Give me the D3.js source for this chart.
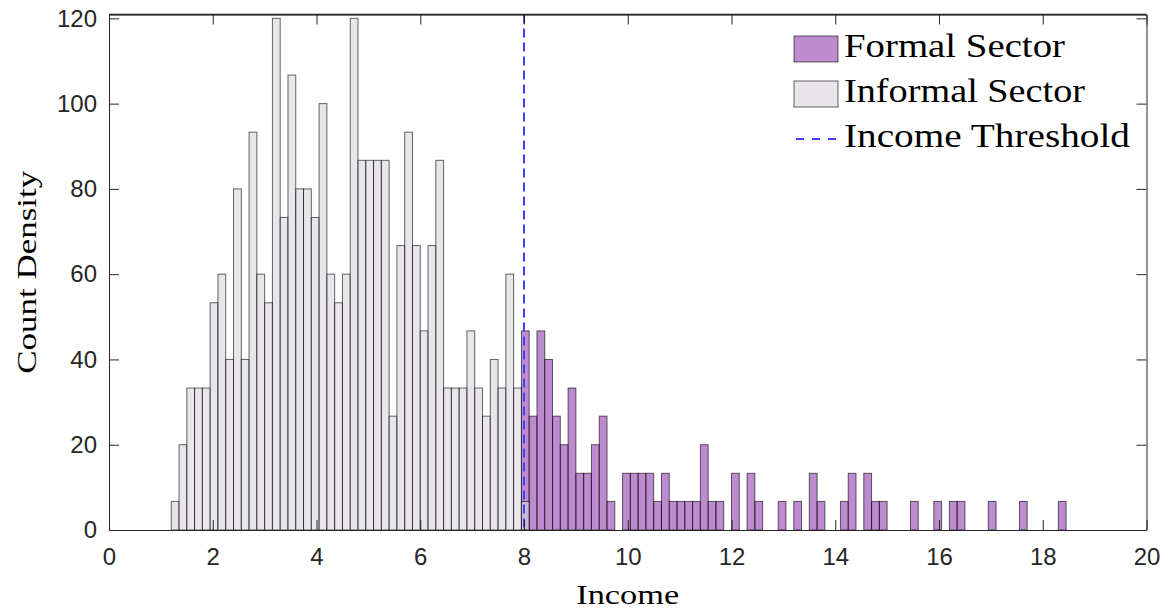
<!DOCTYPE html>
<html>
<head>
<meta charset="utf-8">
<script src="https://cdn.jsdelivr.net/npm/d3@7"></script>
<style>
  body { margin: 0; background: #fff; }
  svg { display: block; }
  .tick text { font-family: "Liberation Sans", Arial, sans-serif; font-size: 24px; fill: #262626; }
  .serif { font-family: "Liberation Serif", "Times New Roman", serif; fill: #000; }
</style>
</head>
<body>
<svg id="chart"></svg>
<script>
// histogram bins (Count Density = count / bin width)
var binWidth = 0.15;
var informalStart = 1.2;
var formalStart = 7.95;
var threshold = 8;

var informalDensity = [6.7, 20, 33.3, 33.3, 33.3, 53.3, 60, 40, 80, 40, 93.3, 60, 53.3, 120, 73.3, 106.7,
  80, 80, 73.3, 100, 60, 53.3, 60, 120, 86.7, 86.7, 86.7, 86.7, 26.7, 66.7, 93.3, 66.7, 46.7, 66.7, 86.7,
  33.3, 33.3, 33.3, 46.7, 33.3, 26.7, 40, 33.3, 60, 33.3, 6.7];

var formalDensity = [46.7, 26.7, 46.7, 40, 26.7, 20, 33.3, 13.3, 13.3, 20, 26.7, 6.7, 0, 13.3, 13.3, 13.3,
  13.3, 6.7, 13.3, 6.7, 6.7, 6.7, 6.7, 20, 6.7, 6.7, 0, 13.3, 0, 13.3, 6.7, 0, 0, 6.7, 0, 6.7, 0, 13.3, 6.7,
  0, 0, 6.7, 13.3, 0, 13.3, 6.7, 6.7, 0, 0, 0, 6.7, 0, 0, 6.7, 0, 6.7, 6.7, 0, 0, 0, 6.7, 0, 0, 0, 6.7,
  0, 0, 0, 0, 6.7];

var xTicks = [0, 2, 4, 6, 8, 10, 12, 14, 16, 18, 20];
var yTicks = [0, 20, 40, 60, 80, 100, 120];
var legendLabels = ["Formal Sector", "Informal Sector", "Income Threshold"];

var W = 1172, H = 612;
var margin = { top: 14.5, right: 25.5, bottom: 82, left: 109 };
var width = W - margin.left - margin.right;
var height = H - margin.top - margin.bottom;

var svg = d3.select("#chart").attr("width", W).attr("height", H);
var g = svg.append("g")
  .attr("transform", "translate(" + margin.left + "," + margin.top + ")");

var xScale = d3.scaleLinear().domain([0, 20]).range([0, width]);
var yScale = d3.scaleLinear().domain([0, 120.9]).range([height, 0]);

var formalColor = "#8f3faf";
var informalColor = "#d9d6dc";
var lineColor = "#4040ff";

function drawBars(data, start, color, cls) {
  var bins = data.map(function(v, i) {
    return { x0: start + i * binWidth, x1: start + (i + 1) * binWidth, v: v };
  }).filter(function(d) { return d.v > 0; });
  g.selectAll("rect." + cls).data(bins)
    .enter().append("rect")
      .attr("class", cls)
      .attr("x", function(d) { return xScale(d.x0); })
      .attr("y", function(d) { return yScale(d.v); })
      .attr("width", function(d) { return xScale(d.x1) - xScale(d.x0); })
      .attr("height", function(d) { return yScale(0) - yScale(d.v); })
      .attr("fill", color)
      .attr("fill-opacity", 0.6)
      .attr("stroke", "#000")
      .attr("stroke-opacity", 0.6)
      .attr("stroke-width", 1);
}

drawBars(formalDensity, formalStart, formalColor, "formal");
drawBars(informalDensity, informalStart, informalColor, "informal");

// threshold
g.append("line")
  .attr("x1", xScale(threshold)).attr("x2", xScale(threshold))
  .attr("y1", 0).attr("y2", height)
  .attr("stroke", lineColor)
  .attr("stroke-width", 2)
  .attr("stroke-dasharray", "9,5");

// axes (ticks inside, box on)
var axisColor = "#262626";
var xAxis = g.append("g").attr("transform", "translate(0," + height + ")")
  .call(d3.axisBottom(xScale).tickValues(xTicks).tickSizeInner(-10).tickSizeOuter(0).tickPadding(13));
var yAxis = g.append("g")
  .call(d3.axisLeft(yScale).tickValues(yTicks).tickSizeInner(-10).tickSizeOuter(0).tickPadding(12));
var xTop = g.append("g")
  .call(d3.axisTop(xScale).tickValues(xTicks).tickSizeInner(-10).tickSizeOuter(0).tickFormat(""));
var yRight = g.append("g").attr("transform", "translate(" + width + ",0)")
  .call(d3.axisRight(yScale).tickValues(yTicks).tickSizeInner(-10).tickSizeOuter(0).tickFormat(""));
[xAxis, yAxis, xTop, yRight].forEach(function(a) {
  a.selectAll(".domain").attr("stroke", axisColor);
  a.selectAll(".tick line").attr("stroke", axisColor);
});
xAxis.selectAll(".tick text").attr("dy", "0.9em");
// top border sits above the 120 tick
g.append("line").attr("x1", 0).attr("x2", width).attr("y1", 0).attr("y2", 0)
  .attr("stroke", axisColor).attr("stroke-width", 1.5);

// axis labels
svg.append("text").attr("class", "serif")
  .attr("x", margin.left + width / 2).attr("y", 604)
  .attr("text-anchor", "middle")
  .attr("font-size", 28)
  .attr("textLength", 103).attr("lengthAdjust", "spacingAndGlyphs")
  .text("Income");
svg.append("text").attr("class", "serif")
  .attr("transform", "translate(36," + (margin.top + height / 2) + ") rotate(-90)")
  .attr("text-anchor", "middle")
  .attr("font-size", 28)
  .attr("textLength", 203).attr("lengthAdjust", "spacingAndGlyphs")
  .text("Count Density");

// legend
var legendX = 794, legendY = 49, legendStep = 45;
var legendWidths = [221, 241, 286];
var lg = svg.append("g");
legendLabels.forEach(function(label, i) {
  var cy = legendY + i * legendStep;
  if (i < 2) {
    lg.append("rect")
      .attr("x", legendX).attr("y", cy - 13)
      .attr("width", 44).attr("height", 26)
      .attr("fill", i === 0 ? formalColor : informalColor)
      .attr("fill-opacity", 0.6)
      .attr("stroke", "#000").attr("stroke-opacity", 0.6);
  } else {
    lg.append("line")
      .attr("x1", legendX + 2).attr("x2", legendX + 44)
      .attr("y1", cy).attr("y2", cy)
      .attr("stroke", lineColor)
      .attr("stroke-width", 2).attr("stroke-dasharray", "8,8");
  }
  lg.append("text").attr("class", "serif")
    .attr("x", 844).attr("y", cy + 8)
    .attr("font-size", 33)
    .attr("textLength", legendWidths[i]).attr("lengthAdjust", "spacingAndGlyphs")
    .text(label);
});
</script>
</body>
</html>
